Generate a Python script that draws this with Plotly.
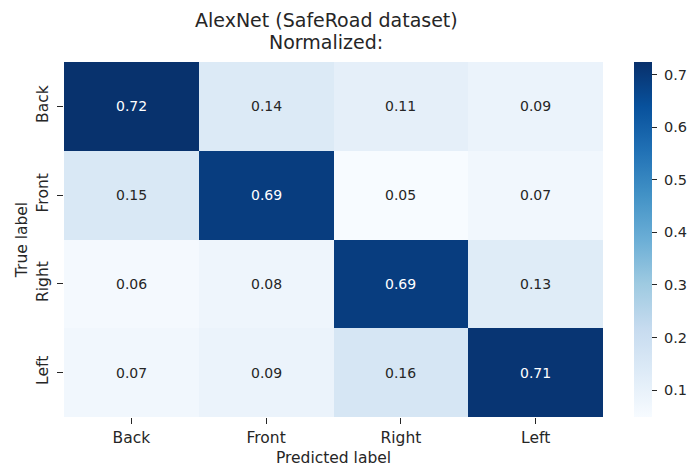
import plotly.graph_objects as go

# Confusion matrix (row-normalised) for the four viewpoint classes
predicted_labels = ["Back", "Front", "Right", "Left"]
true_labels = ["Back", "Front", "Right", "Left"]
row_back = [0.72, 0.14, 0.11, 0.09]
row_front = [0.15, 0.69, 0.05, 0.07]
row_right = [0.06, 0.08, 0.69, 0.13]
row_left = [0.07, 0.09, 0.16, 0.71]
matrix = [row_back, row_front, row_right, row_left]
colorbar_ticks = [0.1, 0.2, 0.3, 0.4, 0.5, 0.6, 0.7]
title_lines = ["AlexNet (SafeRoad dataset)", "Normalized:"]

blues = [
    [0.000, "rgb(247,251,255)"],
    [0.125, "rgb(222,235,247)"],
    [0.250, "rgb(198,219,239)"],
    [0.375, "rgb(158,202,225)"],
    [0.500, "rgb(107,174,214)"],
    [0.625, "rgb(66,146,198)"],
    [0.750, "rgb(33,113,181)"],
    [0.875, "rgb(8,81,156)"],
    [1.000, "rgb(8,48,107)"],
]

FONT = "DejaVu Sans, Liberation Sans, sans-serif"
TXT = "#262626"

fig = go.Figure(
    go.Heatmap(
        z=matrix,
        x=predicted_labels,
        y=true_labels,
        colorscale=blues,
        zmin=0.049,
        zmax=0.724,
        xgap=0,
        ygap=0,
        hoverinfo="skip",
        colorbar=dict(
            thickness=18,
            len=1,
            lenmode="fraction",
            x=1.0575,
            xanchor="left",
            xpad=0,
            y=0.5,
            yanchor="middle",
            ypad=0,
            outlinewidth=0,
            tickvals=colorbar_ticks,
            ticktext=["\u00a0" + f"{v:.1f}" for v in colorbar_ticks],
            ticks="outside",
            ticklen=5,
            tickwidth=1,
            tickcolor=TXT,
            tickfont=dict(family=FONT, size=14.5, color=TXT),
        ),
    )
)

# Cell annotations, white on dark cells
threshold = 0.4
annotations = []
for i, t in enumerate(true_labels):
    for j, p in enumerate(predicted_labels):
        v = matrix[i][j]
        annotations.append(
            dict(
                x=p,
                y=t,
                text=f"{v:.2f}",
                showarrow=False,
                font=dict(family=FONT, size=14, color="white" if v > threshold else TXT),
            )
        )

# Two-line title placed above the plot area
for line, ypos in zip(title_lines, [1.1183, 1.0563]):
    annotations.append(
        dict(
            x=0.4866,
            y=ypos,
            xref="paper",
            yref="paper",
            xanchor="center",
            yanchor="middle",
            text=line,
            showarrow=False,
            font=dict(family=FONT, size=19, color=TXT),
        )
    )

fig.update_layout(
    width=691,
    height=467,
    margin=dict(l=64, r=88, t=62, b=50, autoexpand=False),
    paper_bgcolor="white",
    plot_bgcolor="white",
    font=dict(family=FONT, size=15, color=TXT),
    annotations=annotations,
    xaxis=dict(
        title=dict(text="Predicted label", font=dict(size=15.5), standoff=7),
        automargin=False,
        ticks="outside",
        ticklen=6,
        tickcolor=TXT,
        ticklabelstandoff=0,
        tickfont=dict(size=15.5),
        showgrid=False,
        zeroline=False,
        showline=False,
    ),
    yaxis=dict(
        title=dict(text="True label", font=dict(size=15.5), standoff=2),
        automargin=False,
        autorange="reversed",
        ticks="outside",
        ticklen=6,
        tickcolor=TXT,
        tickangle=-90,
        ticklabelstandoff=3,
        tickfont=dict(size=15.5),
        showgrid=False,
        zeroline=False,
        showline=False,
    ),
)

fig.write_html("out.html")
